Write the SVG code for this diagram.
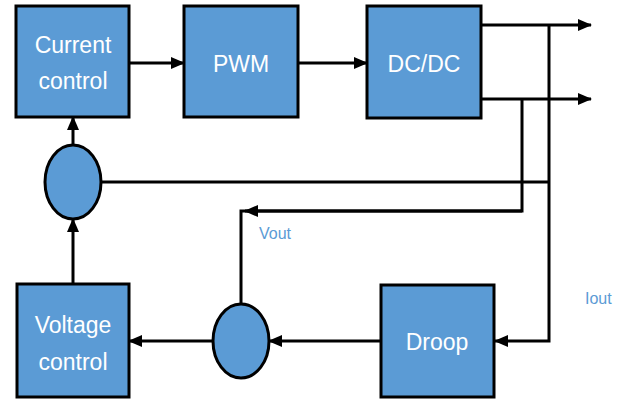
<svg xmlns="http://www.w3.org/2000/svg" width="628" height="402" viewBox="0 0 628 402">
<style>
.box{fill:#5b9bd5;stroke:#000;stroke-width:3}
.lbl{font-family:"Liberation Sans",Arial,sans-serif;font-size:23px;fill:#fff;text-anchor:middle}
.sig{font-family:"Liberation Sans",Arial,sans-serif;font-size:16px;fill:#5b9bd5}
.wire{fill:none;stroke:#000;stroke-width:3}
</style>
<defs>
<marker id="ah" markerWidth="14" markerHeight="14" refX="13" refY="7" orient="auto" markerUnits="userSpaceOnUse">
<path d="M0,1 L14,7 L0,13 Z" fill="#000"/>
</marker>
</defs>
<rect width="628" height="402" fill="#fff"/>
<g id="connectors">
<path class="wire" d="M129,63 H184" marker-end="url(#ah)"/>
<path class="wire" d="M298,63 H367" marker-end="url(#ah)"/>
<path class="wire" d="M481,25 H591" marker-end="url(#ah)"/>
<path class="wire" d="M481,99 H591" marker-end="url(#ah)"/>
<path class="wire" d="M549,25 V341 H495" marker-end="url(#ah)"/>
<path class="wire" d="M522,99 V211 H241 V304"/>
<path class="wire" d="M522,211 H245" marker-end="url(#ah)"/>
<path class="wire" d="M549,182 H101"/>
<path class="wire" d="M73,145 V117" marker-end="url(#ah)"/>
<path class="wire" d="M73,284 V219" marker-end="url(#ah)"/>
<path class="wire" d="M381,341 H269" marker-end="url(#ah)"/>
<path class="wire" d="M213,341 H129" marker-end="url(#ah)"/>
</g>
<g id="current-control">
<rect class="box" x="16" y="6" width="113" height="111"/>
<text class="lbl" x="73" y="53">Current</text>
<text class="lbl" x="73" y="89">control</text>
</g>
<g id="pwm">
<rect class="box" x="184" y="6" width="114" height="111"/>
<text class="lbl" x="241" y="72">PWM</text>
</g>
<g id="dcdc">
<rect class="box" x="367" y="6" width="114" height="112"/>
<text class="lbl" x="424" y="72">DC/DC</text>
</g>
<g id="sum1">
<ellipse class="box" cx="73" cy="182" rx="28" ry="37"/>
</g>
<g id="sum2">
<ellipse class="box" cx="241" cy="341" rx="28" ry="37"/>
</g>
<g id="voltage-control">
<rect class="box" x="17" y="284" width="112" height="113"/>
<text class="lbl" x="73" y="333">Voltage</text>
<text class="lbl" x="73" y="370">control</text>
</g>
<g id="droop">
<rect class="box" x="381" y="285" width="113" height="112"/>
<text class="lbl" x="437" y="350">Droop</text>
</g>
<g id="labels">
<text class="sig" x="259" y="239">Vout</text>
<text class="sig" x="585" y="304" font-size="17">Iout</text>
</g>
</svg>
